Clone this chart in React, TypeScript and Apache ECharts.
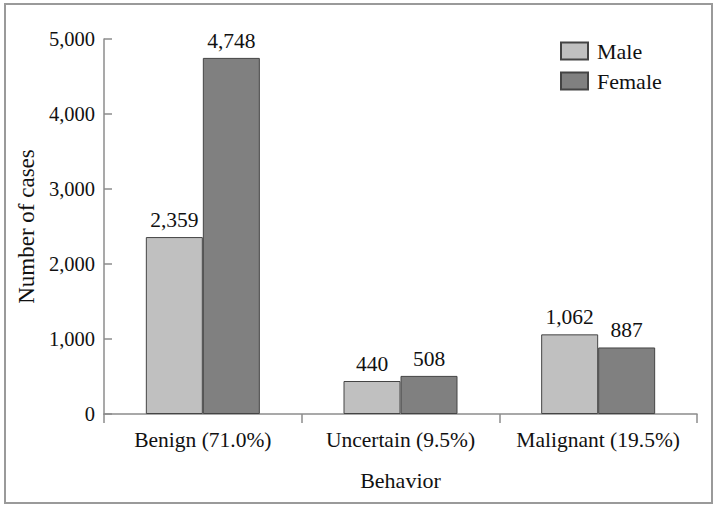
import React, { useEffect, useRef } from "react";
import * as echarts from "echarts";

const categories = ["Benign (71.0%)", "Uncertain (9.5%)", "Malignant (19.5%)"];
const maleValues = [2359, 440, 1062];
const femaleValues = [4748, 508, 887];
const yTicks = [0, 1000, 2000, 3000, 4000, 5000];

const FONT = "'Liberation Serif', 'DejaVu Serif', serif";

export default function App() {
  const ref = useRef<HTMLDivElement>(null);
  useEffect(() => {
    if (!ref.current) return;
    const chart = echarts.init(ref.current, undefined, { renderer: "svg" });
    const labelFmt = (p: any) => Number(p.value).toLocaleString("en-US");
    chart.setOption({
      animation: false,
      backgroundColor: "#ffffff",
      textStyle: { fontFamily: FONT, color: "#111" },
      graphic: [
        {
          type: "rect",
          shape: { x: 5, y: 4, width: 707, height: 499 },
          style: { fill: "none", stroke: "#9a9a9a", lineWidth: 2 },
          silent: true,
        },
      ],
      legend: {
        data: ["Male", "Female"],
        orient: "vertical",
        left: 555,
        top: 35,
        itemWidth: 27,
        itemHeight: 17,
        itemGap: 8,
        textStyle: { fontFamily: FONT, fontSize: 22, color: "#111", padding: [0, 0, 0, 4] },
        icon: "rect",
      },
      grid: { left: 104, right: 21, top: 39, bottom: 95 },
      xAxis: {
        type: "category",
        data: categories,
        name: "Behavior",
        nameLocation: "middle",
        nameGap: 55,
        nameTextStyle: { fontFamily: FONT, fontSize: 22, color: "#111" },
        axisLine: { lineStyle: { color: "#8c8c8c", width: 1.5 } },
        axisTick: { show: true, length: 9, lineStyle: { color: "#8c8c8c", width: 1.5 } },
        axisLabel: { fontFamily: FONT, fontSize: 21.5, color: "#111", margin: 15, interval: 0 },
      },
      yAxis: {
        type: "value",
        min: 0,
        max: 5000,
        interval: 1000,
        name: "Number of cases",
        nameLocation: "middle",
        nameGap: 66,
        nameTextStyle: { fontFamily: FONT, fontSize: 23, color: "#111" },
        axisLine: { show: true, lineStyle: { color: "#8c8c8c", width: 1.5 } },
        axisTick: { show: true, inside: true, length: 8, lineStyle: { color: "#8c8c8c", width: 1.5 } },
        splitLine: { show: false },
        axisLabel: {
          fontFamily: FONT,
          fontSize: 20.5,
          color: "#111",
          margin: 9,
          formatter: (v: number) => (yTicks.includes(v) ? v.toLocaleString("en-US") : ""),
        },
      },
      series: [
        {
          name: "Male",
          type: "bar",
          data: maleValues,
          barWidth: 57,
          barGap: "0%",
          itemStyle: { color: "#c0c0c0", borderColor: "#444", borderWidth: 1 },
          label: { show: true, position: "top", distance: 6, fontFamily: FONT, fontSize: 21.5, color: "#111", formatter: labelFmt },
        },
        {
          name: "Female",
          type: "bar",
          data: femaleValues,
          barWidth: 57,
          barGap: "0%",
          itemStyle: { color: "#808080", borderColor: "#444", borderWidth: 1 },
          label: { show: true, position: "top", distance: 6, fontFamily: FONT, fontSize: 21.5, color: "#111", formatter: labelFmt },
        },
      ],
    });
    return () => chart.dispose();
  }, []);
  return (
    <div
      ref={ref}
      style={{ position: "fixed", left: 0, top: 0, width: 718, height: 509, background: "#fff" }}
    />
  );
}
